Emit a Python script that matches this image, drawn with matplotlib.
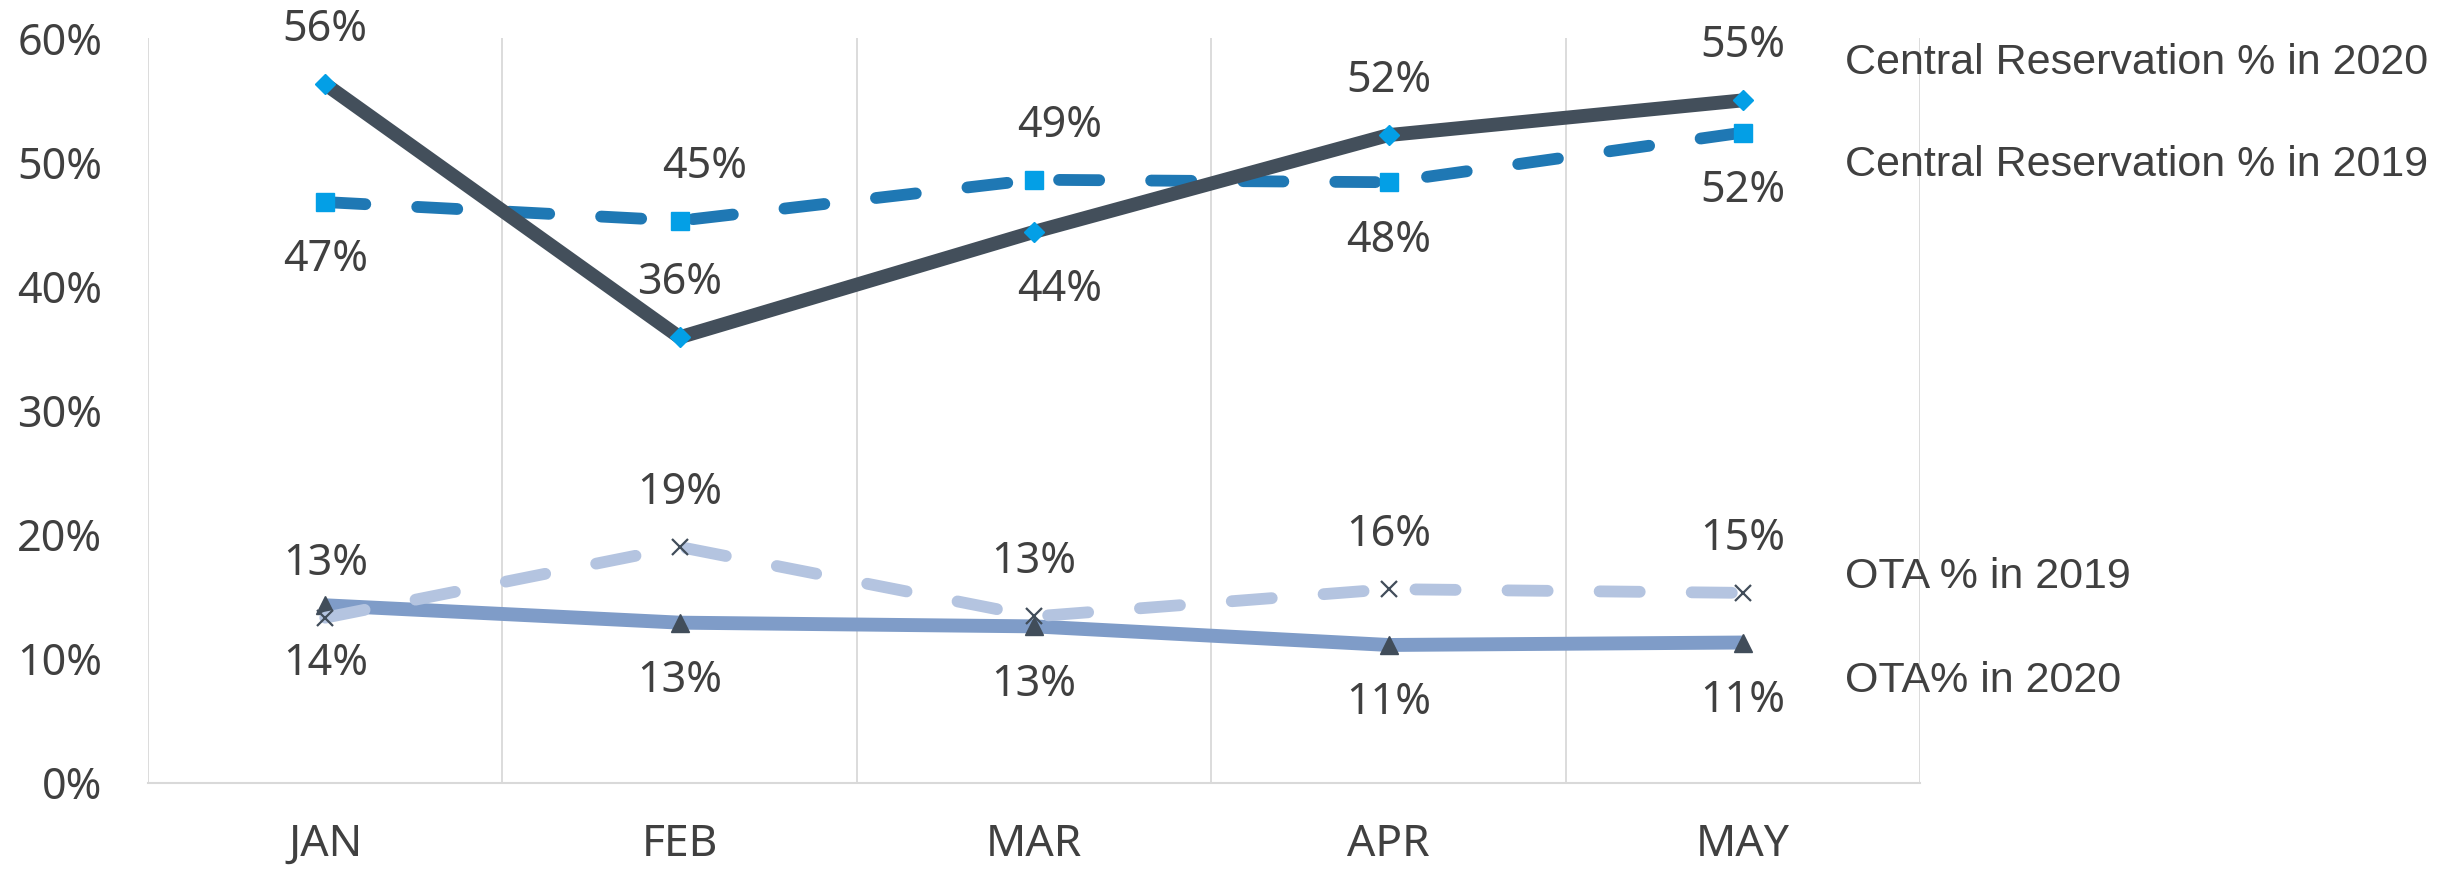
import matplotlib
matplotlib.use('Agg')
import matplotlib.pyplot as plt
from matplotlib.ticker import FixedLocator, FuncFormatter

# ---- data ----
months = ['JAN', 'FEB', 'MAR', 'APR', 'MAY']
cr_2020 = [56.3, 35.9, 44.4, 52.2, 55.0]
cr_2019 = [46.8, 45.3, 48.6, 48.4, 52.4]
ota_2019 = [13.3, 19.0, 13.4, 15.6, 15.3]
ota_2020 = [14.3, 12.9, 12.6, 11.1, 11.3]
y_ticks = [0, 10, 20, 30, 40, 50, 60]
series_names = ['Central Reservation % in 2020', 'Central Reservation % in 2019',
                'OTA % in 2019', 'OTA% in 2020']

# label placement: +1 above, -1 below
cr20_pos = [1, 1, -1, 1, 1]
cr19_pos = [-1, 1, 1, -1, -1]
ota19_pos = [1, 1, 1, 1, 1]
ota20_pos = [-1, -1, -1, -1, -1]
cr20_dx = [0, 0, 18, 0, 0]
cr19_dx = [0, 18, 18, 0, 0]

TXT = '#404040'
FONT = 'Noto Sans'

fig = plt.figure(figsize=(24.4, 8.71), dpi=100)
ax = fig.add_axes([148 / 2440, 1 - 782.7 / 871, (1920.3 - 148) / 2440, (782.7 - 38.3) / 871])

x = list(range(len(months)))

c_dark = '#434F5B'
c_cr19 = '#1F78B4'
c_ota19 = '#B4C4E0'
c_ota20 = '#7F9CC8'
c_mark = '#039FE6'
c_mark_dark = '#414D5A'

# OTA 2020 solid
ax.plot(x, ota_2020, color=c_ota20, lw=10, solid_capstyle='butt', zorder=3)
ax.plot(x, ota_2020, ls='none', marker='^', ms=13, color=c_mark_dark, zorder=4)
# OTA 2019 dashed
l, = ax.plot(x, ota_2019, color=c_ota19, lw=8.5, dash_capstyle='round', zorder=5)
l.set_dashes((3.4, 4.4))
ax.plot(x, ota_2019, ls='none', marker='x', ms=11, mew=1.6, color=c_mark_dark, zorder=6)
# CR 2019 dashed
l, = ax.plot(x, cr_2019, color=c_cr19, lw=8.5, dash_capstyle='round', zorder=3)
l.set_dashes((3.4, 4.4))
ax.plot(x, cr_2019, ls='none', marker='s', ms=13, color=c_mark, zorder=4)
# CR 2020 solid
ax.plot(x, cr_2020, color=c_dark, lw=10, solid_capstyle='butt', zorder=5)
ax.plot(x, cr_2020, ls='none', marker='D', ms=10, color=c_mark, zorder=6)

def labels(vals, pos, dxs=None):
    for i, v in enumerate(vals):
        dx = dxs[i] if dxs else 0
        dy = 39 if pos[i] > 0 else -42
        ax.annotate(f'{v:.0f}%', (i, v), xytext=(dx, dy), textcoords='offset points',
                    ha='center', va='center', fontsize=31, color=TXT,
                    family=FONT, zorder=10, annotation_clip=False)

labels(cr_2020, cr20_pos, cr20_dx)
labels(cr_2019, cr19_pos, cr19_dx)
labels(ota_2019, ota19_pos)
labels(ota_2020, ota20_pos)

ax.set_xlim(-0.5, len(months) - 0.5)
ax.set_ylim(0, 60)
ax.set_xticks(x)
ax.set_xticklabels(months, fontsize=32, color=TXT, family=FONT)
ax.set_yticks(y_ticks)
ax.yaxis.set_major_formatter(FuncFormatter(lambda v, p: f'{v:.0f}%'))
for t in ax.get_yticklabels():
    t.set_family(FONT)
ax.tick_params(axis='y', length=0, pad=33, labelsize=31, labelcolor=TXT)
ax.tick_params(axis='x', length=0, pad=29, labelsize=32, labelcolor=TXT)

ax.xaxis.set_minor_locator(FixedLocator([i - 0.5 for i in range(len(months) + 1)]))
ax.grid(False)
ax.grid(True, which='minor', axis='x', color='#D9D9D9', lw=1.3)
ax.tick_params(which='minor', length=0)
for s in ['top', 'right', 'left']:
    ax.spines[s].set_visible(False)
ax.spines['bottom'].set_color('#D9D9D9')
ax.spines['bottom'].set_linewidth(1.5)
ax.set_axisbelow(True)

# series names on the right
name_y = [59, 161, 572, 676]
for name, yc in zip(series_names, name_y):
    fig.text(1845 / 2440, 1 - (yc + 15.5) / 871, name, ha='left', va='baseline',
             fontsize=31, color=TXT, family='Liberation Sans')

fig.savefig('out.png', dpi=100)
